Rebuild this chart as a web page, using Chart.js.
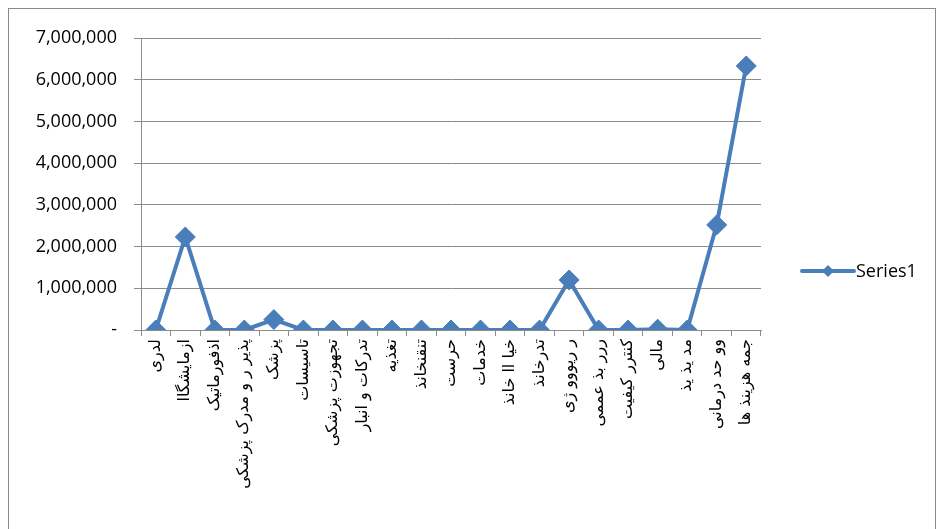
<!DOCTYPE html>
<html>
<head>
<meta charset="utf-8">
<script src="https://cdn.jsdelivr.net/npm/chart.js@4.4.0/dist/chart.umd.min.js"></script>
<style>
  html, body { margin: 0; padding: 0; background: #fff; overflow: hidden; }
  #wrap { position: relative; width: 938px; height: 529px; }
  #frame { position: absolute; left: 8px; top: 8px; width: 928px; height: 540px; border: 1px solid #8a8a8a; box-sizing: border-box; }
  canvas { position: absolute; left: 0; top: 0; }
</style>
</head>
<body>
<div id="wrap">
  <div id="frame"></div>
  <canvas id="chart" width="938" height="529"></canvas>
</div>
<script>
// categories as they appear on the reference axis
const categories = [
    "لدری",
    "ازمایشگاا",
    "اذفورماتیک",
    "پذیر ر و مدرک پزشکی",
    "پزشک",
    "تاسیسات",
    "تجهوزت پزشکی",
    "تدرکات و انبار",
    "تغذیه",
    "تنقنخانذ",
    "حرست",
    "خدمات",
    "خیا اا خانذ",
    "تدرخانذ",
    "ر ریووو ژی",
    "ررر بذ عممی",
    "کنترر کیفیت",
    "مالی",
    "مد یذ یذ",
    "وو حد درمانی",
    "جمه هزینذ ها"
];

const series1 = [0, 2230000, 0, 0, 250000, 0, 0, 0, 0, 0, 0, 0, 0, 0, 1200000, 0, 0, 20000, 0, 2520000, 6330000];

const yMin = 0;
const yMax = 7000000;
const yStep = 1000000;

const blue = "#4a7ebb";
const gridGray = "#8c8c8c";

// legend drawn like the office one: line with a diamond in it
const sideLegend = {
    id: "sideLegend",
    afterDraw(chart) {
        const ctx = chart.ctx;
        const y = 271;
        ctx.save();
        ctx.strokeStyle = blue;
        ctx.lineWidth = 4;
        ctx.lineCap = "round";
        ctx.beginPath();
        ctx.moveTo(802, y);
        ctx.lineTo(854, y);
        ctx.stroke();
        ctx.fillStyle = blue;
        ctx.beginPath();
        ctx.moveTo(828, y - 6);
        ctx.lineTo(834, y);
        ctx.lineTo(828, y + 6);
        ctx.lineTo(822, y);
        ctx.closePath();
        ctx.fill();
        ctx.fillStyle = "#000";
        ctx.font = "18px 'Open Sans', sans-serif";
        ctx.textBaseline = "middle";
        ctx.textAlign = "left";
        ctx.fillText("Series1", 856, y + 1);
        ctx.restore();
    }
};

new Chart(document.getElementById("chart").getContext("2d"), {
    type: "line",
    data: {
        labels: categories,
        datasets: [{
            label: "Series1",
            data: series1,
            borderColor: blue,
            backgroundColor: blue,
            borderWidth: 4,
            tension: 0,
            pointStyle: "rectRot",
            pointRadius: 10,
            pointHoverRadius: 10,
            pointBackgroundColor: blue,
            pointBorderColor: blue,
            pointBorderWidth: 1
        }]
    },
    options: {
        responsive: false,
        animation: false,
        events: [],
        layout: { padding: { left: 0, right: 177, top: 38, bottom: 0 } },
        plugins: {
            legend: { display: false },
            tooltip: { enabled: false }
        },
        scales: {
            x: {
                offset: true,
                grid: {
                    offset: true,
                    drawOnChartArea: false,
                    drawTicks: true,
                    tickLength: 6,
                    color: gridGray,
                    lineWidth: 1
                },
                border: { color: gridGray, width: 1 },
                ticks: {
                    autoSkip: false,
                    maxRotation: 90,
                    minRotation: 90,
                    padding: 3,
                    color: "#000",
                    font: { family: "'DejaVu Sans', sans-serif", size: 16 }
                },
                afterFit(scale) { scale.height = 199; }
            },
            y: {
                min: yMin,
                max: yMax,
                grid: {
                    color: gridGray,
                    lineWidth: 1,
                    drawTicks: true,
                    tickLength: 7
                },
                border: { color: gridGray, width: 1 },
                ticks: {
                    stepSize: yStep,
                    padding: 17,
                    color: "#000",
                    font: { family: "'Open Sans', sans-serif", size: 18 },
                    callback: v => v === 0 ? "-" : v.toLocaleString("en-US")
                },
                afterFit(scale) { scale.width = 141; }
            }
        }
    },
    plugins: [sideLegend]
});
</script>
</body>
</html>
